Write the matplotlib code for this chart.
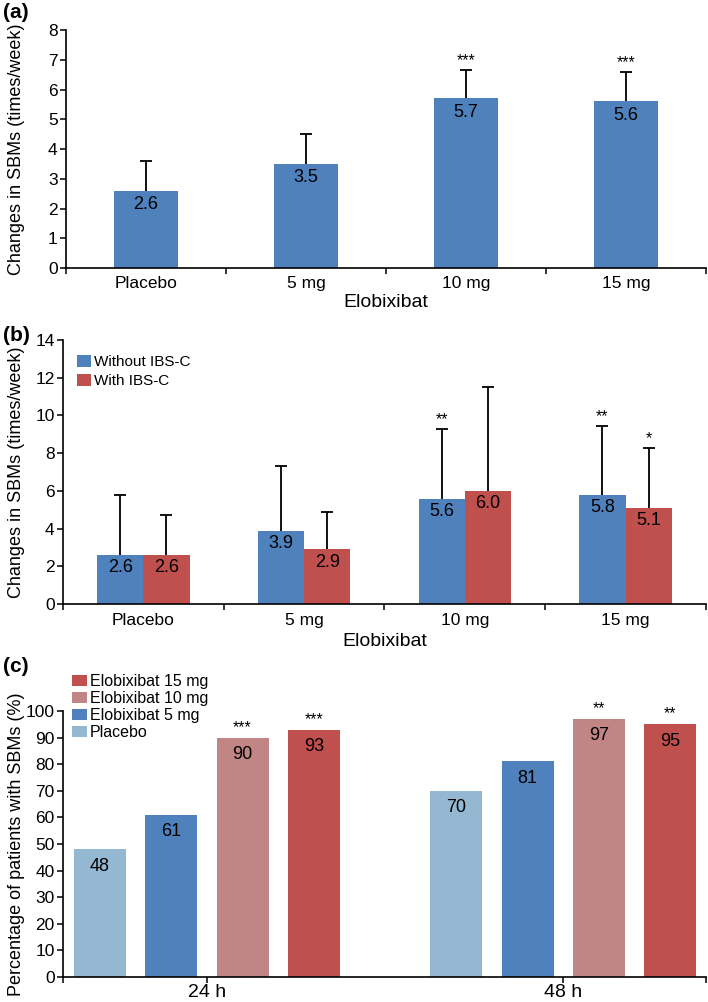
import numpy as np
import matplotlib.pyplot as plt

plt.rcParams['font.family'] = ['Liberation Sans', 'DejaVu Sans']

########
doses = ["Placebo", "5 mg", "10 mg", "15 mg"]

a_mean = [2.6, 3.5, 5.7, 5.6]
a_err = [1.0, 1.0, 0.97, 1.0]
a_stars = ["", "", "***", "***"]

b_without = [2.6, 3.9, 5.6, 5.8]
b_without_err = [3.2, 3.4, 3.7, 3.65]
b_without_stars = ["", "", "**", "**"]
b_with = [2.6, 2.9, 6.0, 5.1]
b_with_err = [2.15, 2.0, 5.5, 3.2]
b_with_stars = ["", "", "", "*"]

timepoints = ["24 h", "48 h"]
c_groups = ["Placebo", "Elobixibat 5 mg", "Elobixibat 10 mg", "Elobixibat 15 mg"]
c_values = [[48, 70], [61, 81], [90, 97], [93, 95]]
c_stars = [["", ""], ["", ""], ["***", "**"], ["***", "**"]]

blue = "#4F81BD"
red = "#C0504D"
light_blue = "#95B8D2"
pink = "#C08584"
c_colors = [light_blue, blue, pink, red]

fig = plt.figure(figsize = (7.08, 10.02), dpi = 100)


def style_axes(ax):
    for s in ["top", "right"]:
        ax.spines[s].set_visible(False)
    for s in ["left", "bottom"]:
        ax.spines[s].set_linewidth(1.2)
    ax.tick_params(axis = "y", direction = "out", length = 4, width = 1.1, labelsize = 12.5, pad = 2)


def upper_err(ax, x, y, err):
    top = np.array(y) + np.array(err)
    ax.vlines(x, y, top, color = "k", linewidth = 1.3, zorder = 3)
    ax.plot(x, top, linestyle = "none", marker = "_", markersize = 8, markeredgewidth = 1.3, color = "k", zorder = 3)
    return top


def value_labels(ax, x, vals, fmt, dy):
    for xi, v in zip(x, vals):
        ax.annotate(fmt.format(v), (xi, v), xytext = (0, dy), textcoords = "offset points",
                    ha = "center", va = "top", fontsize = 13)


def star_labels(ax, x, tops, stars, dy):
    for xi, t, s in zip(x, tops, stars):
        if s:
            ax.annotate(s, (xi, t), xytext = (0, dy), textcoords = "offset points",
                        ha = "center", va = "bottom", fontsize = 11.5)


def category_xaxis(ax, n):
    ax.set_xlim(-0.5, n - 0.5)
    ax.set_xticks(range(n))
    ax.set_xticks(np.arange(-0.5, n, 1.0), minor = True)
    ax.tick_params(axis = "x", which = "major", length = 0, labelsize = 12.5, pad = 6)
    ax.tick_params(axis = "x", which = "minor", direction = "out", length = 4, width = 1.1)


######## (a)
ax_a = fig.add_axes([0.0932, 0.7325, 0.904, 0.2375])
style_axes(ax_a)
x = np.arange(len(doses))
ax_a.bar(x, a_mean, width = 0.4, color = blue, zorder = 2)
tops = upper_err(ax_a, x, a_mean, a_err)
value_labels(ax_a, x, a_mean, "{:.1f}", -4)
star_labels(ax_a, x, tops, a_stars, 1)
category_xaxis(ax_a, len(doses))
ax_a.set_xticklabels(doses)
ax_a.set_ylim(0, 8)
ax_a.set_yticks(range(0, 9))
ax_a.set_xlabel("Elobixibat", fontsize = 14, labelpad = 2)
ax_a.set_ylabel("Changes in SBMs (times/week)", fontsize = 13)
ax_a.yaxis.set_label_coords(-0.064, 0.5)

######## (b)
ax_b = fig.add_axes([0.089, 0.397, 0.908, 0.2637])
style_axes(ax_b)
w = 0.2875
ax_b.bar(x - w / 2, b_without, width = w, color = blue, label = "Without IBS-C", zorder = 2)
ax_b.bar(x + w / 2, b_with, width = w, color = red, label = "With IBS-C", zorder = 2)
tops_wo = upper_err(ax_b, x - w / 2, b_without, b_without_err)
tops_w = upper_err(ax_b, x + w / 2, b_with, b_with_err)
value_labels(ax_b, x - w / 2, b_without, "{:.1f}", -3)
value_labels(ax_b, x + w / 2, b_with, "{:.1f}", -3)
star_labels(ax_b, x - w / 2, tops_wo, b_without_stars, 1)
star_labels(ax_b, x + w / 2, tops_w, b_with_stars, 1)
category_xaxis(ax_b, len(doses))
ax_b.set_xticklabels(doses)
ax_b.set_ylim(0, 14)
ax_b.set_yticks(range(0, 15, 2))
ax_b.set_xlabel("Elobixibat", fontsize = 14, labelpad = 4)
ax_b.set_ylabel("Changes in SBMs (times/week)", fontsize = 13)
ax_b.yaxis.set_label_coords(-0.059, 0.5)
ax_b.legend(loc = "upper left", bbox_to_anchor = (0.012, 0.965), frameon = False, fontsize = 11,
            handlelength = 0.9, handleheight = 0.8, handletextpad = 0.2, labelspacing = 0.3,
            borderaxespad = 0)

######## (c)
ax_c = fig.add_axes([0.089, 0.025, 0.908, 0.2655])
style_axes(ax_c)
xt = np.arange(len(timepoints))
step = 0.2
bw = 0.146
offsets = (np.arange(len(c_groups)) - 1.5) * step
handles = []
for i in range(len(c_groups)):
    b = ax_c.bar(xt + offsets[i], c_values[i], width = bw, color = c_colors[i], label = c_groups[i], zorder = 2)
    handles.append(b)
    value_labels(ax_c, xt + offsets[i], c_values[i], "{:d}", -6)
    star_labels(ax_c, xt + offsets[i], c_values[i], c_stars[i], 2)
ax_c.set_xlim(-0.404, 1.40)
ax_c.set_xticks(xt)
ax_c.set_xticklabels(timepoints)
ax_c.set_xticks([-0.404, 1.40], minor = True)
ax_c.tick_params(axis = "x", which = "major", direction = "out", length = 4, width = 1.1, labelsize = 14, pad = 1)
ax_c.tick_params(axis = "x", which = "minor", direction = "out", length = 4, width = 1.1)
ax_c.set_ylim(0, 100)
ax_c.set_yticks(range(0, 101, 10))
ax_c.set_ylabel("Percentage of patients with SBMs (%)", fontsize = 13)
ax_c.yaxis.set_label_coords(-0.059, 0.5)
ax_c.legend(handles = handles[::-1], loc = "upper left", bbox_to_anchor = (0.102, 0.327),
            bbox_transform = fig.transFigure, frameon = False, fontsize = 11.5,
            handlelength = 0.9, handleheight = 0.7, handletextpad = 0.2, labelspacing = 0.12,
            borderaxespad = 0, borderpad = 0)

######## panel letters
fig.text(0.004, 0.997, "(a)", fontsize = 15, fontweight = "bold", va = "top")
fig.text(0.004, 0.675, "(b)", fontsize = 15, fontweight = "bold", va = "top")
fig.text(0.004, 0.344, "(c)", fontsize = 15, fontweight = "bold", va = "top")

plt.savefig("out.png", dpi = 100)
